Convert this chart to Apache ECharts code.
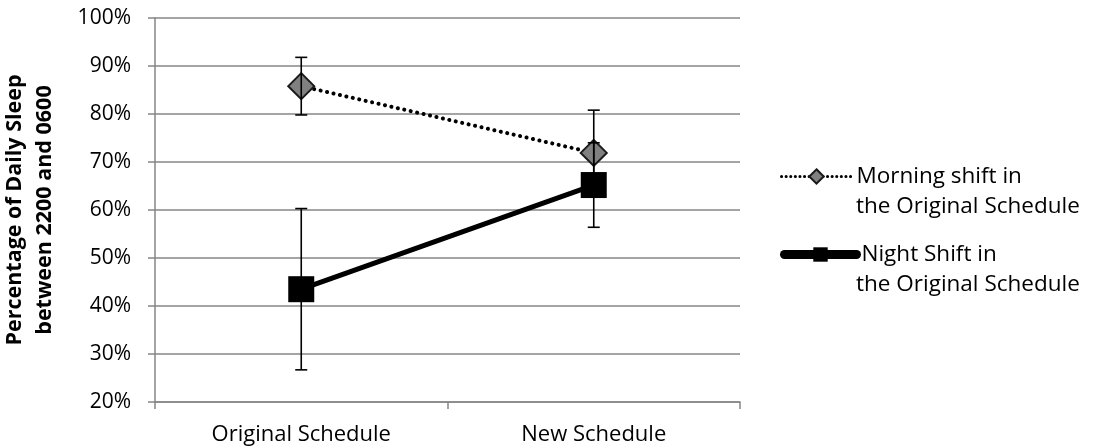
<!DOCTYPE html>
<html><head><meta charset="utf-8">
<script src="https://cdn.jsdelivr.net/npm/echarts@6/dist/echarts.min.js"></script>
<style>html,body{margin:0;padding:0;background:#fff}#c{width:1102px;height:446px}</style>
</head><body><div id="c"></div>
<script>
const categories = ['Original Schedule', 'New Schedule'];
const morningName = 'Morning shift in';
const nightName = 'Night Shift in';
const legendSecondLine = 'the Original Schedule';
const morningValues = [85.8, 71.9];
const morningErr = [6.0, 8.9];
const nightValues = [43.5, 65.2];
const nightErr = [16.8, 8.8];
const yTicks = { min: 20, max: 100, interval: 10 };

const font = 'Open Sans';
const chart = echarts.init(document.getElementById('c'), null, {renderer: 'canvas'});

function errData(vals, errs) {
  return vals.map((v, i) => [i, v - errs[i], v + errs[i]]);
}
function errRender(params, api) {
  const x = api.value(0);
  const lo = api.coord([x, api.value(1)]);
  const hi = api.coord([x, api.value(2)]);
  const hw = 6;
  const st = {stroke: '#000', lineWidth: 1.6};
  return {type: 'group', children: [
    {type: 'line', shape: {x1: lo[0], y1: lo[1], x2: hi[0], y2: hi[1]}, style: st},
    {type: 'line', shape: {x1: lo[0]-hw, y1: lo[1], x2: lo[0]+hw, y2: lo[1]}, style: st},
    {type: 'line', shape: {x1: hi[0]-hw, y1: hi[1], x2: hi[0]+hw, y2: hi[1]}, style: st}
  ]};
}

const legendFs = 22.5;
const legendText = {fontFamily: font, fontSize: legendFs, color: '#000'};

chart.setOption({
  animation: false,
  textStyle: {fontFamily: font},
  grid: {left: 155, right: 362, top: 18, bottom: 44, outerBoundsMode: 'none', containLabel: false},
  legend: [
    {
      left: 780, top: 165, padding: 0, itemWidth: 70, itemHeight: 18, itemGap: 0,
      textStyle: legendText, data: [morningName],
      lineStyle: {width: 3, type: [0.1, 4.5], cap: 'round'}
    },
    {
      left: 780, top: 243, padding: 0, itemWidth: 72, itemHeight: 18, itemGap: 0,
      textStyle: legendText, data: [nightName],
      lineStyle: {width: 9, cap: 'round'}
    }
  ],
  graphic: [
    {type: 'text', left: 856, top: 195, style: {text: legendSecondLine, font: legendFs + 'px "Open Sans"', fill: '#000'}},
    {type: 'text', left: 856, top: 273, style: {text: legendSecondLine, font: legendFs + 'px "Open Sans"', fill: '#000'}}
  ],
  xAxis: {
    type: 'category', data: categories, boundaryGap: true,
    axisLine: {lineStyle: {color: '#868686', width: 1.5}},
    axisTick: {show: true, length: 7, lineStyle: {color: '#868686', width: 1.5}},
    axisLabel: {fontFamily: font, fontSize: 22, color: '#000', margin: 22}
  },
  yAxis: {
    type: 'value', min: yTicks.min, max: yTicks.max, interval: yTicks.interval,
    name: 'Percentage of Daily Sleep\nbetween 2200 and 0600',
    nameLocation: 'middle', nameGap: 95,
    nameTextStyle: {fontFamily: font, fontSize: 21.5, fontWeight: 'bold', color: '#000', lineHeight: 30},
    axisLine: {show: true, lineStyle: {color: '#868686', width: 1.5}},
    axisTick: {show: true, length: 7, lineStyle: {color: '#868686', width: 1.5}},
    axisLabel: {fontFamily: font, fontSize: 21, color: '#000', margin: 24, formatter: '{value}%'},
    splitLine: {lineStyle: {color: '#868686', width: 1.5}}
  },
  series: [
    {
      name: morningName, type: 'line', data: morningValues,
      symbol: 'diamond', symbolSize: 26,
      lineStyle: {color: '#000', width: 4, type: [0.1, 6.5], cap: 'round'},
      itemStyle: {color: '#808080', borderColor: '#1a1a1a', borderWidth: 2},
      z: 2
    },
    {
      name: nightName, type: 'line', data: nightValues,
      symbol: 'rect', symbolSize: 26,
      lineStyle: {color: '#000', width: 5, cap: 'round'},
      itemStyle: {color: '#000', borderColor: '#000', borderWidth: 0},
      z: 3
    },
    {type: 'custom', renderItem: errRender, data: errData(morningValues, morningErr), z: 10, silent: true},
    {type: 'custom', renderItem: errRender, data: errData(nightValues, nightErr), z: 10, silent: true}
  ]
});
</script></body></html>
